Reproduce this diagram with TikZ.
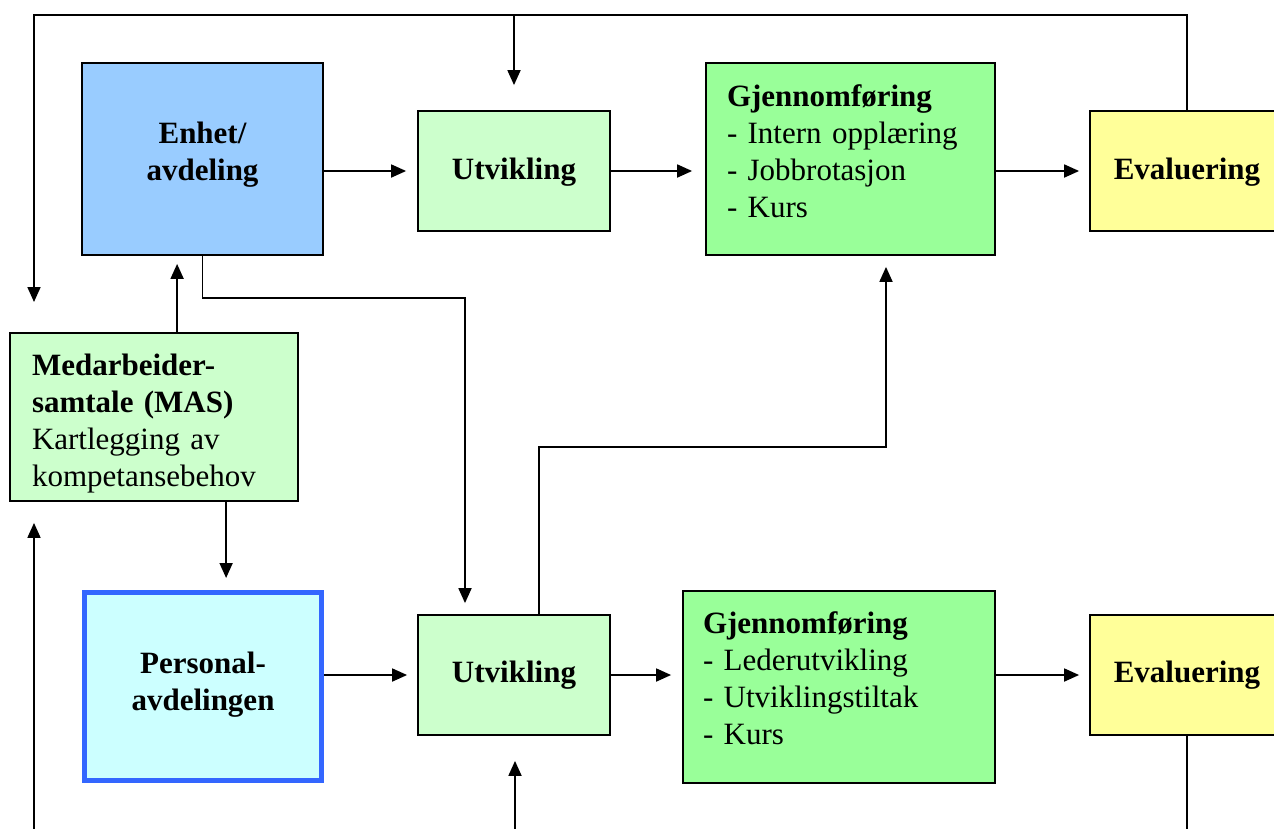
\documentclass[tikz,border=0pt]{standalone}
\usepackage{fontspec}
\setmainfont{Liberation Serif}
\usetikzlibrary{arrows.meta}
\definecolor{enhetblue}{HTML}{99CCFF}
\definecolor{palegreen}{HTML}{CCFFCC}
\definecolor{midgreen}{HTML}{99FF99}
\definecolor{paleyellow}{HTML}{FFFF99}
\definecolor{palecyan}{HTML}{CCFFFF}
\definecolor{frameblue}{HTML}{3366FF}
\begin{document}
\begin{tikzpicture}[x=1pt,y=-1pt,
  box/.style={draw, line width=1.8pt, inner sep=0pt},
  ctxt/.style={inner sep=0pt, align=center, font=\fontsize{31}{37}\selectfont\bfseries},
  ltxt/.style={inner sep=0pt, align=left, font=\fontsize{31}{37}\selectfont},
  conn/.style={line width=1.8pt},
  arr/.style={conn, -{Triangle[length=15pt,width=13pt]}},
]
\useasboundingbox (0,0) rectangle (1274,828);
\clip (0,0) rectangle (1274,828);

% boxes
\node[box, fill=enhetblue, minimum width=241pt, minimum height=192pt] (enhet) at (202.5,159) {};
\node[box, fill=palegreen, minimum width=192pt, minimum height=120pt] (ut1) at (514,171) {};
\node[box, fill=midgreen, minimum width=289pt, minimum height=192pt] (gj1) at (850.5,159) {};
\node[box, fill=paleyellow, minimum width=194pt, minimum height=120pt] (ev1) at (1187,171) {};
\node[box, fill=palegreen, minimum width=288pt, minimum height=168pt] (mas) at (154,417) {};
\node[box, draw=frameblue, line width=5pt, fill=palecyan, minimum width=237pt, minimum height=188pt] (pers) at (203,686.5) {};
\node[box, fill=palegreen, minimum width=192pt, minimum height=120pt] (ut2) at (514,675) {};
\node[box, fill=midgreen, minimum width=312pt, minimum height=192pt] (gj2) at (839,687) {};
\node[box, fill=paleyellow, minimum width=194pt, minimum height=120pt] (ev2) at (1187,675) {};

% texts
\node[ctxt] (enhett) at ([yshift=4pt]enhet.center) {Enhet/\\avdeling};
\node[ctxt] (ut1t) at ([yshift=-1pt]ut1.center) {Utvikling};
\node[ltxt, text width=247pt] (gj1t) at ([yshift=8pt]gj1.center)
  {\textbf{Gjennomføring}\\- Intern opplæring\\- Jobbrotasjon\\- Kurs};
\node[ctxt] (ev1t) at ([yshift=-1pt]ev1.center) {Evaluering};
\node[ltxt, text width=244pt] (mast) at ([yshift=-7pt]mas.center)
  {\textbf{Medarbeider-}\\\textbf{samtale (MAS)}\\Kartlegging av\\kompetansebehov};
\node[ctxt] (perst) at ([yshift=2pt]pers.center) {Personal-\\avdelingen};
\node[ctxt] (ut2t) at (ut2.center) {Utvikling};
\node[ltxt, text width=272pt] (gj2t) at ([yshift=9pt]gj2.center)
  {\textbf{Gjennomføring}\\- Lederutvikling\\- Utviklingstiltak\\- Kurs};
\node[ctxt] (ev2t) at (ev2.center) {Evaluering};

% helper coordinates
\coordinate (tl) at (34,15);
\coordinate (loopend) at (34,302);
\coordinate (c1) at (465,298);
\coordinate (c2) at (539,447);
\coordinate (c3) at (886,447);
\coordinate (bl) at (34,845);
\coordinate (bm) at (515,845);

% connectors
\draw[arr] (ev1.north) |- (tl) -- (loopend);
\draw[arr, shorten >=25pt] (ut1.north |- tl) -- (ut1.north);
\draw[arr, shorten >=11pt] (enhet.east |- ut1.west) -- (ut1.west);
\draw[arr, shorten >=13pt] (ut1.east) -- (gj1.west |- ut1.east);
\draw[arr, shorten >=10pt] (gj1.east |- ev1.west) -- (ev1.west);

\draw[arr, shorten >=8pt] ([xshift=168pt]mas.north west) -- ([xshift=168pt]mas.north west |- enhet.south);
\draw[arr, shorten >=11pt] (enhet.south) |- (c1) -- (c1 |- ut2.north);
\draw[arr, shorten >=12pt] ([xshift=217pt]mas.south west) -- ([xshift=217pt]mas.south west |- pers.north);
\draw[arr, shorten >=11pt] (c2 |- ut2.north) -- (c2) -- (c3) -- (c3 |- gj1.south);

\draw[arr, shorten >=10pt] (pers.east |- ut2.west) -- (ut2.west);
\draw[arr, shorten >=11pt] (ut2.east) -- (gj2.west |- ut2.east);
\draw[arr, shorten >=10pt] (gj2.east |- ev2.west) -- (ev2.west);

\draw[arr, shorten >=21pt] (bl) -- (bl |- mas.south);
\draw[arr, shorten >=25pt] (bm) -- (bm |- ut2.south);
\draw[conn] (ev2.south) -- (ev2.south |- bl);
\end{tikzpicture}
\end{document}
